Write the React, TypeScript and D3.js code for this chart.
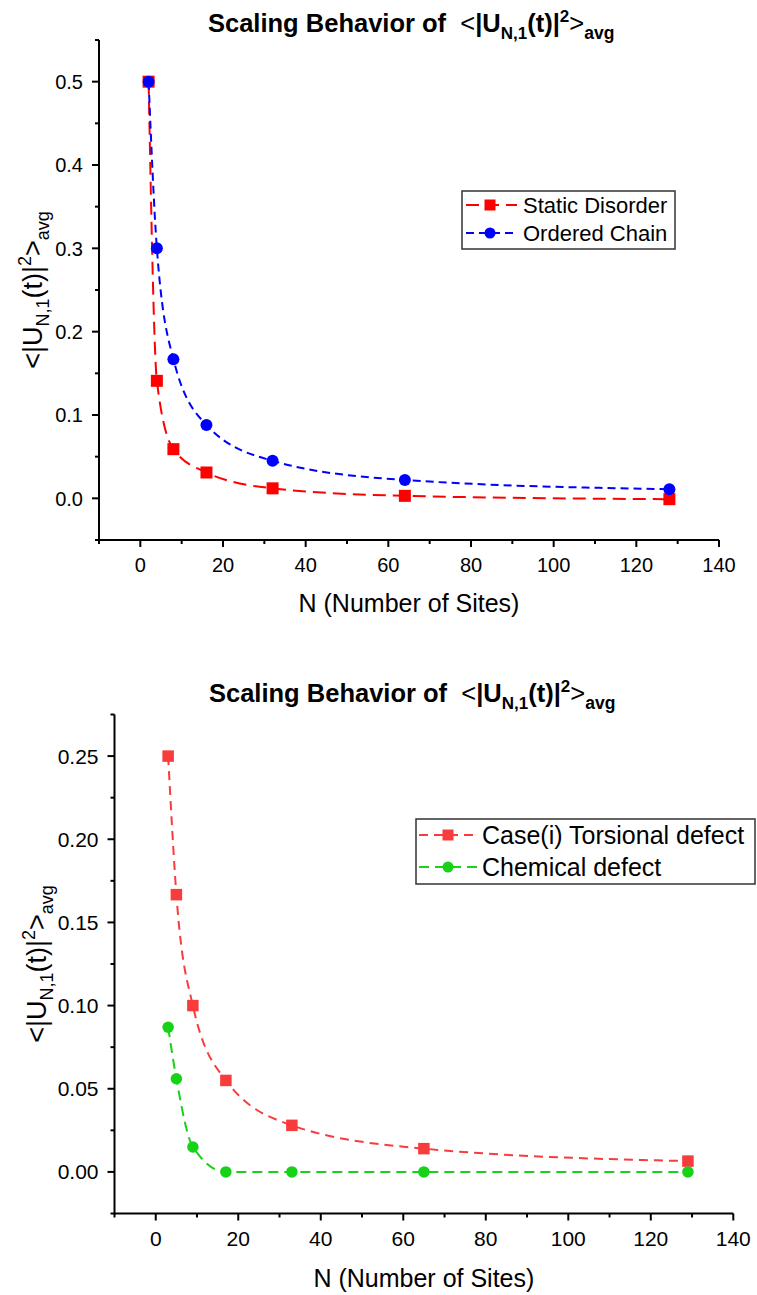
import React, { useEffect, useRef } from "react";
import * as d3 from "d3";

// ---------- data ----------
const topN = [2, 4, 8, 16, 32, 64, 128];
const staticDisorder = [0.5, 0.141, 0.059, 0.031, 0.012, 0.003, -0.001];
const orderedChain = [0.5, 0.3, 0.167, 0.088, 0.045, 0.022, 0.011];

const bottomN = [3, 5, 9, 17, 33, 65, 129];
const torsionalDefect = [0.25, 0.1667, 0.1, 0.055, 0.028, 0.014, 0.0065];
const chemicalDefect = [0.087, 0.056, 0.015, 0.0, 0.0, 0.0, 0.0];

const xTicks = [0, 20, 40, 60, 80, 100, 120, 140];
const xMinorTicks = [-10, 10, 30, 50, 70, 90, 110, 130];
const topYTicks = [0, 0.1, 0.2, 0.3, 0.4, 0.5];
const topYMinor = [-0.05, 0.05, 0.15, 0.25, 0.35, 0.45, 0.55];
const bottomYTicks = [0, 0.05, 0.1, 0.15, 0.2, 0.25];
const bottomYMinor = [-0.025, 0.025, 0.075, 0.125, 0.175, 0.225, 0.275];

const topLegend = ["Static Disorder", "Ordered Chain"];
const bottomLegend = ["Case(i) Torsional defect", "Chemical defect"];

const FONT = "'Liberation Sans', Arial, Helvetica, sans-serif";

type Series = { values: number[]; color: string; marker: "square" | "circle"; dash: string; label: string };

type Cfg = {
  xs: number[];
  series: Series[];
  xRange: [number, number];
  yRange: [number, number];
  yDomain: [number, number];
  yTicks: number[];
  yMinor: number[];
  yFmt: string;
  tickFont: number;
  markSize: number;
  titleX: number;
  titleY: number;
  xLabelY: number;
  yLabelX: number;
  legend: { x0: number; y0: number; x1: number; y1: number; rows: number[]; lineX0: number; lineX1: number; markX: number; textX: number; font: number };
};

function drawMarker(g: d3.Selection<SVGGElement, unknown, null, undefined>, s: Series, cx: number, cy: number, size: number) {
  if (s.marker === "square") {
    g.append("rect").attr("x", cx - size / 2).attr("y", cy - size / 2).attr("width", size).attr("height", size).attr("fill", s.color);
  } else {
    g.append("circle").attr("cx", cx).attr("cy", cy).attr("r", size / 2).attr("fill", s.color);
  }
}

function drawChart(g: d3.Selection<SVGGElement, unknown, null, undefined>, c: Cfg) {
  const x = d3.scaleLinear().domain([-10, 140]).range(c.xRange);
  const y = d3.scaleLinear().domain(c.yDomain).range(c.yRange);
  const [x0, x1] = c.xRange;
  const [yb, yt] = c.yRange;

  // title
  const t = g.append("text").attr("x", c.titleX).attr("y", c.titleY)
    .attr("font-family", FONT).attr("font-size", 25.5).attr("font-weight", "bold").attr("fill", "#000");
  t.append("tspan").text("Scaling Behavior of\u00a0\u00a0");
  t.append("tspan").attr("font-weight", "normal").text("<");
  t.append("tspan").text("|U");
  t.append("tspan").attr("font-size", 17).attr("dy", 7).text("N,1");
  t.append("tspan").attr("dy", -7).text("(t)|");
  t.append("tspan").attr("font-size", 17).attr("dy", -10).text("2");
  t.append("tspan").attr("font-weight", "normal").attr("dy", 10).text(">");
  t.append("tspan").attr("font-size", 17.5).attr("dy", 7).text("avg");

  // axes lines
  g.append("line").attr("x1", x0).attr("x2", x1).attr("y1", yb).attr("y2", yb).attr("stroke", "#000").attr("stroke-width", 2);
  g.append("line").attr("x1", x0).attr("x2", x0).attr("y1", yb + 1).attr("y2", yt).attr("stroke", "#000").attr("stroke-width", 2);

  // x ticks
  xTicks.forEach(v => {
    g.append("line").attr("x1", x(v)).attr("x2", x(v)).attr("y1", yb).attr("y2", yb + 7).attr("stroke", "#000").attr("stroke-width", 2);
    g.append("text").attr("x", x(v)).attr("y", yb + 32).attr("text-anchor", "middle")
      .attr("font-family", FONT).attr("font-size", c.tickFont).attr("fill", "#000").text(String(v));
  });
  xMinorTicks.forEach(v => {
    g.append("line").attr("x1", x(v)).attr("x2", x(v)).attr("y1", yb).attr("y2", yb + 4).attr("stroke", "#000").attr("stroke-width", 2);
  });
  // y ticks
  const fmt = d3.format(c.yFmt);
  c.yTicks.forEach(v => {
    g.append("line").attr("x1", x0 - 7).attr("x2", x0).attr("y1", y(v)).attr("y2", y(v)).attr("stroke", "#000").attr("stroke-width", 2);
    g.append("text").attr("x", x0 - 16).attr("y", y(v)).attr("dy", "0.36em").attr("text-anchor", "end")
      .attr("font-family", FONT).attr("font-size", c.tickFont).attr("fill", "#000").text(fmt(v));
  });
  c.yMinor.forEach(v => {
    g.append("line").attr("x1", x0 - 4).attr("x2", x0).attr("y1", y(v)).attr("y2", y(v)).attr("stroke", "#000").attr("stroke-width", 2);
  });

  // x label
  g.append("text").attr("x", (x0 + x1) / 2).attr("y", c.xLabelY).attr("text-anchor", "middle")
    .attr("font-family", FONT).attr("font-size", 25).attr("fill", "#000").text("N (Number of Sites)");

  // y label
  const yl = g.append("text").attr("transform", `translate(${c.yLabelX},${(yb + yt) / 2}) rotate(-90)`)
    .attr("text-anchor", "middle").attr("font-family", FONT).attr("font-size", 27).attr("fill", "#000");
  yl.append("tspan").text("<|U");
  yl.append("tspan").attr("font-size", 18).attr("dy", 7).text("N,1");
  yl.append("tspan").attr("dy", -7).text("(t)|");
  yl.append("tspan").attr("font-size", 18).attr("dy", -11).text("2");
  yl.append("tspan").attr("dy", 11).text(">");
  yl.append("tspan").attr("font-size", 18).attr("dy", 7).text("avg");

  // series
  const line = d3.line<[number, number]>().x(d => x(d[0])).y(d => y(d[1])).curve(d3.curveMonotoneX);
  c.series.forEach(s => {
    const pts: [number, number][] = c.xs.map((n, i) => [n, s.values[i]]);
    g.append("path").attr("d", line(pts) as string).attr("fill", "none").attr("stroke", s.color)
      .attr("stroke-width", 2).attr("stroke-dasharray", s.dash);
  });
  c.series.forEach(s => {
    c.xs.forEach((n, i) => {
      drawMarker(g, s, x(n), y(s.values[i]), c.markSize);
    });
  });

  // legend
  const L = c.legend;
  g.append("rect").attr("x", L.x0).attr("y", L.y0).attr("width", L.x1 - L.x0).attr("height", L.y1 - L.y0)
    .attr("fill", "#fff").attr("stroke", "#333").attr("stroke-width", 1.5);
  c.series.forEach((s, i) => {
    const ry = L.rows[i];
    g.append("line").attr("x1", L.lineX0).attr("x2", L.lineX1).attr("y1", ry).attr("y2", ry)
      .attr("stroke", s.color).attr("stroke-width", 2).attr("stroke-dasharray", s.dash);
    drawMarker(g, s, L.markX, ry, 11);
    g.append("text").attr("x", L.textX).attr("y", ry).attr("dy", "0.36em")
      .attr("font-family", FONT).attr("font-size", L.font).attr("fill", "#000").text(s.label);
  });
}

export default function App() {
  const ref = useRef<SVGSVGElement | null>(null);
  useEffect(() => {
    const svg = d3.select(ref.current);
    svg.selectAll("*").remove();
    const root = svg.append("g") as d3.Selection<SVGGElement, unknown, null, undefined>;

    drawChart(root, {
      xs: topN,
      series: [
        { values: staticDisorder, color: "#ff0000", marker: "square", dash: "13,7", label: topLegend[0] },
        { values: orderedChain, color: "#0000ff", marker: "circle", dash: "8,5", label: topLegend[1] },
      ],
      xRange: [99, 719],
      yRange: [540, 40],
      yDomain: [-0.05, 0.55],
      yTicks: topYTicks,
      yMinor: topYMinor,
      yFmt: ".1f",
      tickFont: 20,
      markSize: 12,
      titleX: 208,
      titleY: 32,
      xLabelY: 612,
      yLabelX: 42,
      legend: { x0: 462, y0: 191, x1: 675, y1: 249, rows: [205, 233], lineX0: 466, lineX1: 517, markX: 490, textX: 523, font: 22 },
    });

    drawChart(root, {
      xs: bottomN,
      series: [
        { values: torsionalDefect, color: "#f83c3c", marker: "square", dash: "9,6", label: bottomLegend[0] },
        { values: chemicalDefect, color: "#17d217", marker: "circle", dash: "10,6", label: bottomLegend[1] },
      ],
      xRange: [114.5, 733.3],
      yRange: [1213.5, 714.5],
      yDomain: [-0.025, 0.275],
      yTicks: bottomYTicks,
      yMinor: bottomYMinor,
      yFmt: ".2f",
      tickFont: 21,
      markSize: 11.5,
      titleX: 209,
      titleY: 702,
      xLabelY: 1287,
      yLabelX: 46,
      legend: { x0: 416, y0: 819, x1: 755, y1: 884, rows: [835, 867], lineX0: 419, lineX1: 477, markX: 448, textX: 482, font: 25 },
    });
  }, []);
  return (
    <svg ref={ref} width={757} height={1295} style={{ position: "absolute", left: 0, top: 0, background: "#fff" }} />
  );
}
